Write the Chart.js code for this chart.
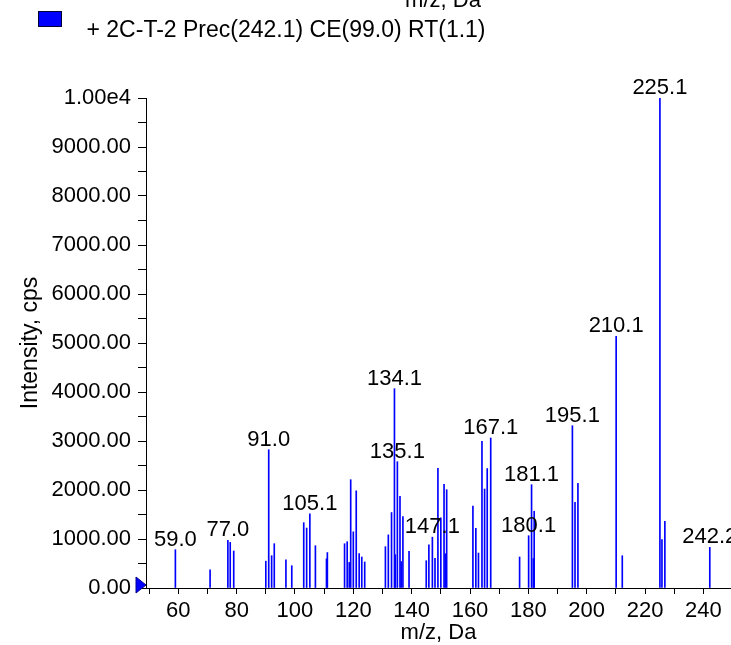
<!DOCTYPE html>
<html><head><meta charset="utf-8">
<script src="https://cdn.jsdelivr.net/npm/chart.js@4.4.1/dist/chart.umd.min.js"></script>
<style>html,body{margin:0;padding:0;background:#fff;overflow:hidden}#wrap{position:relative;width:731px;height:645px}canvas{display:block}</style>
</head><body><div id="wrap"><canvas id="c" width="731" height="645"></canvas></div>
<script>
const seriesLabel = '+ 2C-T-2 Prec(242.1) CE(99.0) RT(1.1)';
const topCutTitle = 'm/z, Da';
const xAxisTitle = 'm/z, Da';
const yAxisTitle = 'Intensity, cps';

const mzValues = [59.0, 70.9, 77.0, 77.8, 79.0, 90.0, 91.0, 92.0, 92.9, 96.9, 98.9,
  103.0, 104.0, 105.1, 107.0, 110.8, 111.1, 117.0, 117.9, 118.6, 119.1, 120.0, 121.0,
  122.0, 122.9, 123.9, 131.0, 132.0, 133.1, 134.1, 134.4, 135.1, 136.0, 136.4, 137.0,
  139.1, 145.0, 145.9, 147.1, 148.0, 149.0, 150.0, 151.1, 151.5, 152.0, 161.0, 162.0,
  162.9, 164.1, 165.0, 165.9, 167.1, 177.0, 180.1, 181.1, 181.7, 182.0, 195.1, 196.0,
  197.0, 210.1, 212.2, 225.1, 225.8, 226.8, 242.2];
const intensities = [782, 373, 972, 931, 755, 548, 2822, 659, 904, 575, 455,
  1333, 1224, 1513, 863, 595, 723, 904, 945, 522, 2210, 1146, 1983,
  700, 633, 531, 843, 1085, 1540, 4067, 680, 2578, 1870, 540, 1458,
  747, 557, 880, 1037, 608, 2441, 1430, 2118, 700, 2006, 1673, 1216,
  714, 2992, 2020, 2438, 3061, 633, 1067, 2108, 602, 1567, 3312, 1747,
  2135, 5135, 659, 10000, 986, 1360, 829];
const labeledMz = [59.0, 77.0, 91.0, 105.1, 134.1, 135.1, 147.1, 167.1, 180.1, 181.1, 195.1, 210.1, 225.1, 242.2];
const xTickValues = [50, 60, 70, 80, 90, 100, 110, 120, 130, 140, 150, 160, 170, 180, 190, 200, 210, 220, 230, 240];
const yTickValues = [0, 500, 1000, 1500, 2000, 2500, 3000, 3500, 4000, 4500, 5000, 5500, 6000, 6500, 7000, 7500, 8000, 8500, 9000, 9500, 10000];

const FONT = '"Liberation Sans", Arial, sans-serif';

const decorPlugin = {
  id: 'decor',
  afterDatasetsDraw(chart) {
    const {ctx, scales: {x, y}} = chart;
    ctx.save();
    ctx.font = '22px ' + FONT;
    ctx.fillStyle = '#000';
    ctx.textAlign = 'center';
    ctx.textBaseline = 'alphabetic';
    labeledMz.forEach(m => {
      const i = mzValues.indexOf(m);
      const px = x.getPixelForValue(m);
      const py = y.getPixelForValue(intensities[i]);
      ctx.fillText(m.toFixed(1), px, py - 4);
    });
    ctx.restore();
  },
  afterDraw(chart) {
    const {ctx, scales: {x, y}} = chart;
    ctx.save();
    // cut-off axis title of the chart above
    ctx.font = '22px ' + FONT;
    ctx.fillStyle = '#000';
    ctx.textAlign = 'center';
    ctx.textBaseline = 'alphabetic';
    ctx.fillText(topCutTitle, 443, 7);
    // legend
    ctx.fillStyle = '#0000FF';
    ctx.fillRect(38.5, 11.5, 23, 15);
    ctx.strokeStyle = '#000033';
    ctx.lineWidth = 1;
    ctx.strokeRect(38.5, 11.5, 23, 15);
    ctx.fillStyle = '#000';
    ctx.textAlign = 'left';
    ctx.font = '23px ' + FONT;
    ctx.fillText(chart.data.datasets[0].label, 86.5, 36.5);
    // precursor marker triangle on y axis
    const ax = x.left;
    const ay = y.getPixelForValue(0) - 3;
    ctx.beginPath();
    ctx.moveTo(ax - 10, ay - 8);
    ctx.lineTo(ax, ay);
    ctx.lineTo(ax - 10, ay + 8);
    ctx.closePath();
    ctx.fillStyle = '#0000FF';
    ctx.fill();
    ctx.strokeStyle = '#00008B';
    ctx.stroke();
    ctx.restore();
  }
};

new Chart(document.getElementById('c'), {
  type: 'bar',
  data: {
    datasets: [{
      label: seriesLabel,
      data: mzValues.map((m, i) => ({x: m, y: intensities[i]})),
      backgroundColor: '#0000FF',
      borderWidth: 0,
      barThickness: 1
    }]
  },
  options: {
    responsive: false,
    animation: false,
    devicePixelRatio: 1,
    layout: {padding: {top: 98, right: 0, left: 0, bottom: 0}},
    plugins: {legend: {display: false}, tooltip: {enabled: false}},
    scales: {
      x: {
        type: 'linear',
        min: 48.93,
        max: 249.47,
        offset: false,
        afterBuildTicks(s) { s.ticks = xTickValues.map(v => ({value: v})); },
        afterFit(s) { s.height = 57; },
        grid: {display: true, drawOnChartArea: false, drawTicks: true, tickLength: 6, color: '#000', offset: false},
        border: {display: true, color: '#000', width: 1},
        ticks: {
          autoSkip: false, maxRotation: 0, padding: 4, color: '#000',
          font: {family: FONT, size: 22},
          callback: v => (v % 20 === 0 ? String(v) : '')
        },
        title: {display: true, text: xAxisTitle, color: '#000', font: {family: FONT, size: 22, lineHeight: 1}, padding: {top: 0, bottom: 1}}
      },
      y: {
        type: 'linear',
        min: 0,
        max: 10000,
        afterBuildTicks(s) { s.ticks = yTickValues.map(v => ({value: v})); },
        afterFit(s) { s.width = 146; },
        grid: {display: true, drawOnChartArea: false, drawTicks: true, tickLength: 8, color: '#000'},
        border: {display: true, color: '#000', width: 1},
        ticks: {
          autoSkip: false, padding: 7, color: '#000',
          font: {family: FONT, size: 22},
          callback: v => (v % 1000 === 0 ? (v === 10000 ? '1.00e4' : v.toFixed(2)) : '')
        },
        title: {display: true, text: yAxisTitle, color: '#000', font: {family: FONT, size: 23, lineHeight: 1.2}, padding: {top: 17, bottom: 0}}
      }
    }
  },
  plugins: [decorPlugin]
});
</script>
</body></html>
